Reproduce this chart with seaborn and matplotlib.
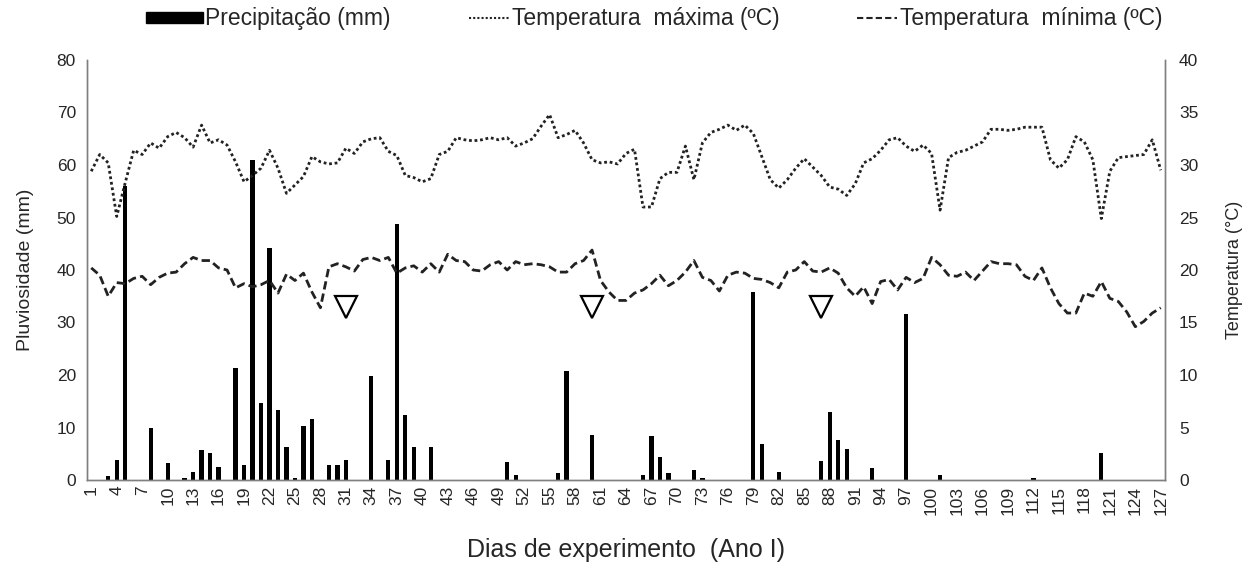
import numpy as np
import pandas as pd
import matplotlib
matplotlib.use("Agg")
import matplotlib.pyplot as plt
from matplotlib.lines import Line2D
from matplotlib.patches import Patch, Rectangle
from matplotlib.legend_handler import HandlerPatch
import seaborn as sns

# ---------------- data ----------------
days = list(range(1, 128))

rain_days = [3, 4, 5, 8, 10, 12, 13, 14, 15, 16, 18, 19, 20, 21, 22, 23, 24, 25, 26, 27,
             29, 30, 31, 34, 36, 37, 38, 39, 41, 50, 51, 56, 57, 60, 66, 67, 68, 69, 72, 73,
             79, 80, 82, 87, 88, 89, 90, 93, 97, 101, 112, 120]
rain_mm = [0.8, 3.9, 56.0, 10.0, 3.2, 0.3, 1.5, 5.7, 5.2, 2.5, 21.3, 2.8, 61.0, 14.7, 44.1, 13.3, 6.2, 0.3, 10.3, 11.7,
           2.8, 2.8, 3.9, 19.8, 3.9, 48.8, 12.3, 6.2, 6.2, 3.4, 1.0, 1.3, 20.8, 8.6, 1.0, 8.4, 4.4, 1.3, 2.0, 0.3,
           35.8, 6.9, 1.5, 3.7, 13.0, 7.6, 6.0, 2.2, 31.7, 1.0, 0.3, 5.2]

t_max = [29.4, 31.0, 30.2, 25.1, 28.3, 31.4, 31.0, 32.1, 31.6, 32.7,
         33.1, 32.6, 31.7, 33.8, 32.1, 32.4, 31.9, 30.3, 28.4, 29.0,
         29.7, 31.4, 29.7, 27.3, 28.1, 28.9, 30.8, 30.3, 30.1, 30.2,
         31.6, 31.1, 32.2, 32.5, 32.6, 31.3, 30.9, 29.0, 28.8, 28.4,
         28.7, 31.0, 31.3, 32.6, 32.4, 32.3, 32.4, 32.6, 32.4, 32.6,
         31.8, 32.1, 32.5, 33.7, 34.8, 32.6, 32.9, 33.3, 32.1, 30.5,
         30.2, 30.3, 30.1, 31.1, 31.5, 26.0, 26.0, 28.7, 29.3, 29.3,
         31.8, 28.6, 32.1, 33.1, 33.4, 33.8, 33.3, 33.8, 33.0, 30.8,
         28.6, 27.8, 28.6, 29.7, 30.6, 29.8, 29.0, 27.9, 27.7, 27.1,
         28.2, 30.2, 30.6, 31.4, 32.4, 32.6, 31.8, 31.3, 31.9, 31.1,
         25.7, 30.7, 31.2, 31.4, 31.8, 32.2, 33.4, 33.4, 33.3, 33.4,
         33.6, 33.6, 33.6, 30.5, 29.7, 30.5, 32.7, 32.2, 30.5, 24.9,
         29.4, 30.7, 30.8, 30.9, 31.0, 32.4, 29.5]

t_min = [20.2, 19.5, 17.5, 18.8, 18.7, 19.2, 19.4, 18.6, 19.3, 19.7,
         19.8, 20.6, 21.2, 20.9, 20.9, 20.2, 20.0, 18.3, 18.7, 18.4,
         18.6, 19.0, 17.8, 19.6, 19.0, 19.7, 17.9, 16.4, 20.3, 20.6,
         20.3, 19.9, 21.0, 21.2, 20.9, 21.2, 19.7, 20.2, 20.4, 19.8,
         20.6, 19.8, 21.5, 20.9, 20.8, 20.0, 19.9, 20.5, 20.8, 20.0,
         20.8, 20.5, 20.6, 20.5, 20.3, 19.8, 19.8, 20.6, 20.9, 21.9,
         19.0, 17.9, 17.1, 17.1, 17.8, 18.1, 18.7, 19.5, 18.5, 19.0,
         19.8, 20.9, 19.3, 19.0, 18.0, 19.5, 19.8, 19.7, 19.2, 19.1,
         18.8, 18.3, 19.8, 20.0, 20.8, 19.9, 19.8, 20.2, 19.7, 18.3,
         17.5, 18.4, 16.8, 18.9, 19.1, 18.1, 19.3, 18.8, 19.2, 21.2,
         20.5, 19.5, 19.4, 19.8, 19.0, 19.9, 20.8, 20.6, 20.6, 20.5,
         19.4, 19.0, 20.2, 18.3, 16.8, 15.9, 15.9, 17.8, 17.5, 18.9,
         17.3, 17.0, 16.0, 14.6, 15.1, 15.9, 16.4]

marker_days = [31, 60, 87]
marker_level = [33, 33, 33]

x_ticks = list(range(1, 128, 3))

# ---------------- build ----------------
rain_full = np.zeros(len(days))
for d, v in zip(rain_days, rain_mm):
    rain_full[d - 1] = v
df = pd.DataFrame({"dia": days, "chuva": rain_full, "tmax": t_max, "tmin": t_min})

sns.set_theme(style="white")
plt.rcParams["font.family"] = ["Liberation Sans", "DejaVu Sans"]
FS = 12.5
FS_LEG = 16.5
FS_XL = 18
TXT = "#262626"

fig = plt.figure(figsize=(12.57, 5.67), dpi=100)
ax = fig.add_axes([87 / 1257, 1 - 480 / 567, (1165 - 87) / 1257, 420 / 567])

sns.barplot(data=df, x="dia", y="chuva", native_scale=True, color="black",
            width=0.5, ax=ax, saturation=1, linewidth=0, errorbar=None)
ax.set_xlim(0.5, 127.5)
ax.set_ylim(0, 80)
ax.set_yticks(range(0, 81, 10))
ax.set_xticks(x_ticks)
ax.set_xticklabels([str(t) for t in x_ticks], rotation=90, fontsize=FS, color=TXT)
ax.tick_params(axis="y", labelsize=FS, length=0, pad=8, labelcolor=TXT)
ax.tick_params(axis="x", length=0, pad=4)
ax.set_ylabel("Pluviosidade (mm)", fontsize=14, labelpad=16, color=TXT)
ax.set_xlabel("Dias de experimento  (Ano I)", fontsize=FS_XL, labelpad=17, color=TXT)

ax.plot(marker_days, marker_level, linestyle="none", marker="v", markersize=16,
        markerfacecolor="white", markeredgecolor="black", markeredgewidth=1.6, zorder=5)

ax2 = ax.twinx()
sns.lineplot(data=df, x="dia", y="tmax", ax=ax2, color="#222222", linewidth=2,
             linestyle=(0, (1, 1)))
sns.lineplot(data=df, x="dia", y="tmin", ax=ax2, color="#222222", linewidth=2,
             linestyle=(0, (3, 1.5)))
ax2.set_ylim(0, 40)
ax2.set_yticks(range(0, 41, 5))
ax2.tick_params(axis="y", labelsize=FS, length=0, pad=10, labelcolor=TXT)
ax2.set_ylabel("Temperatura (°C)", fontsize=13, labelpad=20, color=TXT)
ax2.set_xlim(0.5, 127.5)

for a in (ax, ax2):
    a.spines["top"].set_visible(False)
    for s in ("left", "right", "bottom"):
        a.spines[s].set_color("#7f7f7f")
        a.spines[s].set_linewidth(1.0)
    a.grid(False)


def wide_rect(legend, orig_handle, xdescent, ydescent, width, height, fontsize):
    w = 41.0
    h = 7.5
    return Rectangle((width - w - xdescent, (height - h) / 2 - ydescent), w, h)


handles = [Patch(facecolor="black", edgecolor="black"),
           Line2D([], [], color="#222222", linewidth=1.5, linestyle=(0, (1, 1))),
           Line2D([], [], color="#222222", linewidth=1.5, linestyle=(0, (3, 1.5)))]
labels = ["Precipitação (mm)", "Temperatura  máxima (ºC)", "Temperatura  mínima (ºC)"]
leg = fig.legend(handles, labels, loc="center", bbox_to_anchor=(0.527, 1 - 19 / 567), ncol=3,
                 frameon=False, fontsize=FS_LEG, handlelength=1.75, handletextpad=0.12,
                 columnspacing=3.4, handleheight=0.6,
                 handler_map={Patch: HandlerPatch(patch_func=wide_rect)})
for t in leg.get_texts():
    t.set_color(TXT)

fig.savefig("out.png", dpi=100)
